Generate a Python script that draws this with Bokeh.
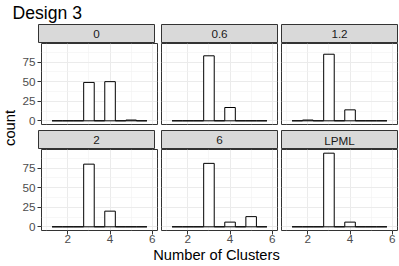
import math
from bokeh.plotting import figure
from bokeh.models import Range1d, FixedTicker, Grid, LinearAxis, Spacer
from bokeh.layouts import row, column
from bokeh.core.properties import value
from bokeh.embed import file_html
from bokeh.resources import INLINE

# ---- data ----
bin_centers = [1.5, 2.0, 2.5, 3.0, 3.5, 4.0, 4.5, 5.0, 5.5]
panel_labels = ["0", "0.6", "1.2", "2", "6", "LPML"]
counts_0 = [0, 0, 0, 49, 0, 50, 0, 1, 0]
counts_06 = [0, 0, 0, 83, 0, 17, 0, 0, 0]
counts_12 = [0, 1, 0, 85, 0, 14, 0, 0, 0]
counts_2 = [0, 0, 0, 80, 0, 20, 0, 0, 0]
counts_6 = [0, 0, 0, 81, 0, 6, 0, 13, 0]
counts_lpml = [0, 0, 0, 94, 0, 6, 0, 0, 0]
x_ticks = [2, 4, 6]
x_minor = [1, 3, 5]
y_ticks = [0, 25, 50, 75]
y_minor = [12.5, 37.5, 62.5, 87.5]
title_text = "Design 3"
x_title = "Number of Clusters"
y_title = "count"

FONT = "Liberation Sans"
FW, FH, SH = 116, 81, 19
YLW = 19
AXW = 19
AXH = 18


def style_axis(ax, standoff):
    ax.axis_line_color = None
    ax.major_tick_line_color = "#333333"
    ax.major_tick_out = 4
    ax.major_tick_in = 0
    ax.minor_tick_line_color = None
    ax.major_label_standoff = standoff
    ax.major_label_text_font = FONT
    ax.major_label_text_font_size = "11.7px"
    ax.major_label_text_color = "#4D4D4D"


def strip(label, left_col):
    s = figure(frame_width=FW, frame_height=SH, x_range=Range1d(0, 1), y_range=Range1d(0, 1),
               x_axis_type=None, y_axis_type=None, toolbar_location=None,
               output_backend="svg", min_border_left=1, min_border_right=1,
               min_border_top=1, min_border_bottom=0)
    s.background_fill_color = "#D9D9D9"
    s.outline_line_color = "#333333"
    s.outline_line_width = 1
    s.text(x=[0.5], y=[0.5], text=[label], text_align="center", text_baseline="middle",
           text_font=value(FONT), text_font_size="11.7px", text_color="#1A1A1A")
    if left_col:
        return row(Spacer(width=AXW - 1, height=SH), s)
    return s


def panel(label, counts, left_axis, bottom_axis):
    p = figure(frame_width=FW, frame_height=FH, x_range=Range1d(0.75, 6.25),
               y_range=Range1d(-4.7, 98.7), x_axis_type=None, y_axis_type=None,
               toolbar_location=None, output_backend="svg",
               min_border_left=AXW if left_axis else 1, min_border_right=1,
               min_border_top=0, min_border_bottom=AXH if bottom_axis else 3)
    p.background_fill_color = "white"
    p.outline_line_color = "#333333"
    p.outline_line_width = 1
    xt = FixedTicker(ticks=x_ticks, minor_ticks=x_minor)
    yt = FixedTicker(ticks=y_ticks, minor_ticks=y_minor)
    for dim, t in ((0, xt), (1, yt)):
        g = Grid(dimension=dim, ticker=t, grid_line_color="#EBEBEB", grid_line_width=1,
                 minor_grid_line_color="#F2F2F2", minor_grid_line_width=0.6)
        p.add_layout(g)
    if left_axis:
        ax = LinearAxis(ticker=yt)
        style_axis(ax, 2)
        p.add_layout(ax, "left")
    if bottom_axis:
        ax = LinearAxis(ticker=xt)
        style_axis(ax, 0)
        p.add_layout(ax, "below")
    p.vbar(x=bin_centers, width=0.5, top=counts, bottom=0, fill_color="white",
           line_color="black", line_width=1)
    return column(strip(label, left_axis), p)


all_counts = [counts_0, counts_06, counts_12, counts_2, counts_6, counts_lpml]
cells = []
for i, (lab, c) in enumerate(zip(panel_labels, all_counts)):
    r, k = divmod(i, 3)
    cells.append(panel(lab, c, left_axis=(k == 0), bottom_axis=(r == 1)))

row1 = row(cells[0], Spacer(width=2, height=10), cells[1], Spacer(width=2, height=10), cells[2])
row2 = row(cells[3], Spacer(width=2, height=10), cells[4], Spacer(width=2, height=10), cells[5])
grid = column(row1, Spacer(width=10, height=2), row2)

# y title
yl = figure(width=YLW, height=207, x_range=Range1d(0, YLW), y_range=Range1d(0, 207),
            x_axis_type=None, y_axis_type=None, toolbar_location=None,
            output_backend="svg", min_border=0)
yl.outline_line_color = None
yl.text(x=[9.3], y=[102.5], text=[y_title], angle=math.pi / 2, text_align="center",
        text_baseline="alphabetic", text_font=value(FONT), text_font_size="14.7px",
        text_color="black")

# main title
tf = figure(width=394, height=23, x_range=Range1d(0, 394), y_range=Range1d(0, 23),
            x_axis_type=None, y_axis_type=None, toolbar_location=None,
            output_backend="svg", min_border=0)
tf.outline_line_color = None
tf.text(x=[12], y=[11], text=[title_text], text_align="left", text_baseline="alphabetic",
        text_font=value(FONT), text_font_size="17.6px", text_color="black")

# x title
xf = figure(width=394, height=18, x_range=Range1d(0, 394), y_range=Range1d(0, 18),
            x_axis_type=None, y_axis_type=None, toolbar_location=None,
            output_backend="svg", min_border=0)
xf.outline_line_color = None
xf.text(x=[216], y=[12], text=[x_title], text_align="center", text_baseline="alphabetic",
        text_font=value(FONT), text_font_size="14.7px", text_color="black")

layout = column(tf, row(yl, grid), xf)

open("out.html", "w").write(file_html(layout, INLINE))
